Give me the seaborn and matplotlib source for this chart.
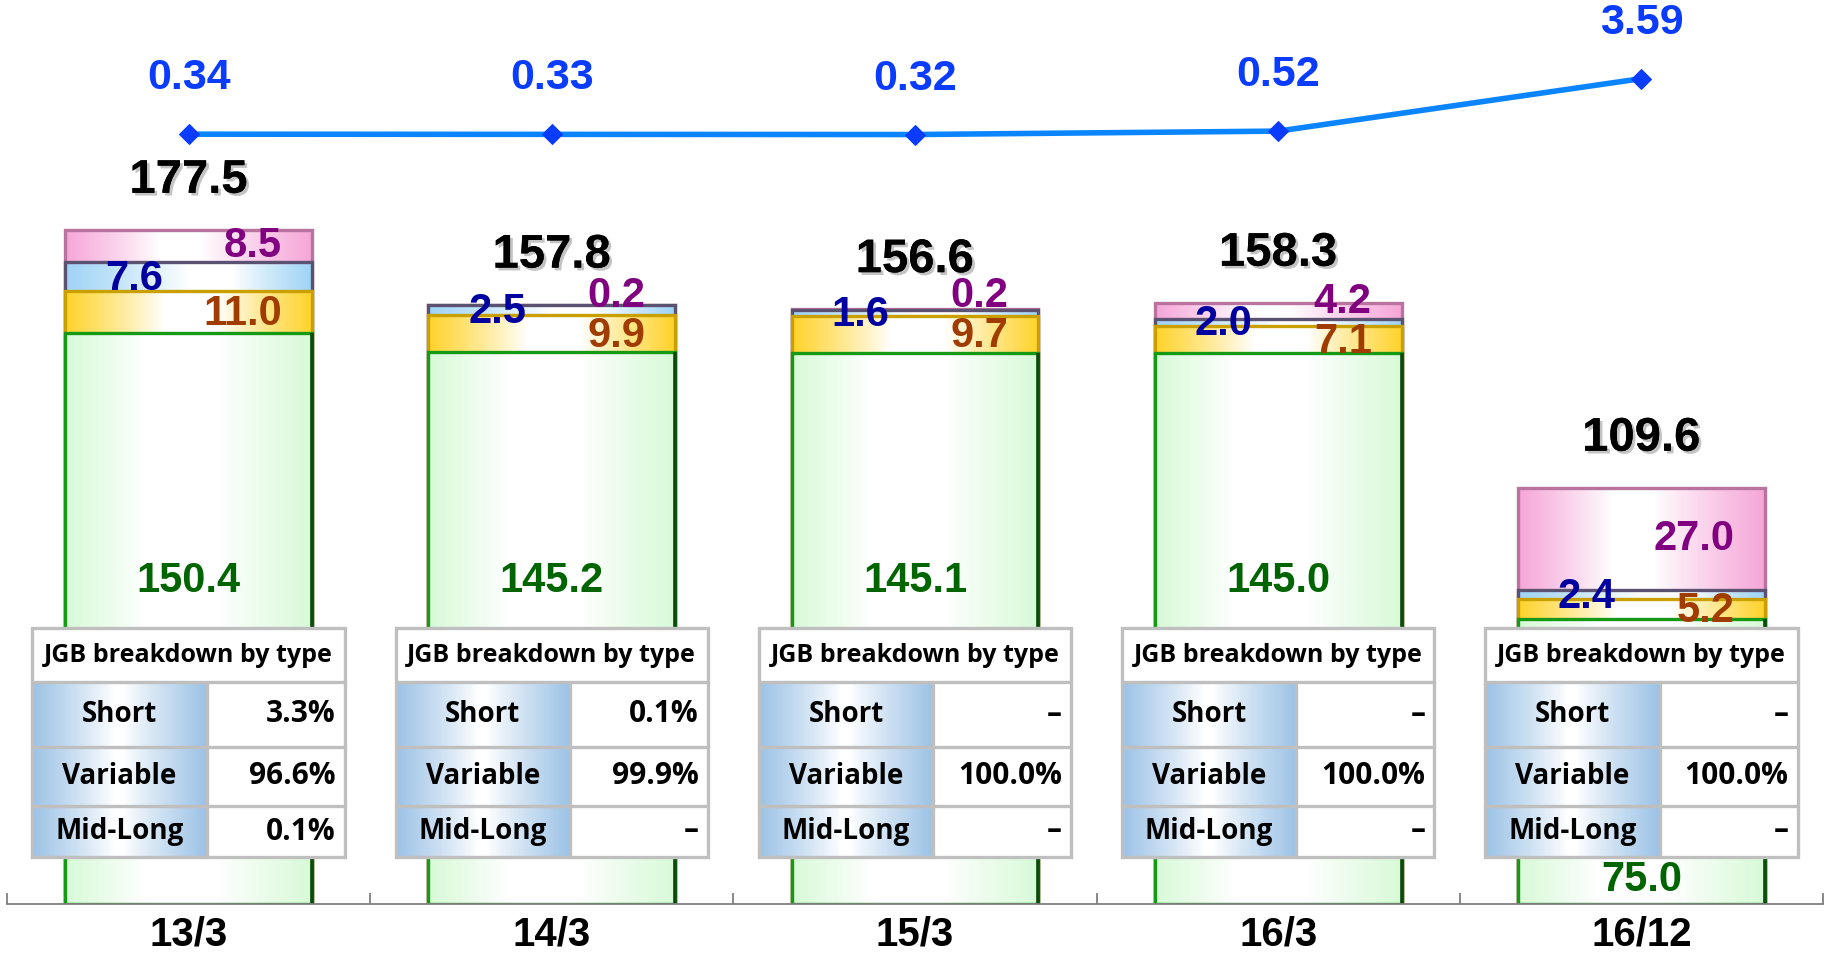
import numpy as np
import matplotlib
matplotlib.use("Agg")
import matplotlib.pyplot as plt
import seaborn as sns
from matplotlib.colors import to_rgb
from matplotlib.patches import Rectangle
from matplotlib import transforms
import matplotlib.patheffects as pe

# ---- data -------------------------------------------------------------
periods = ["13/3", "14/3", "15/3", "16/3", "16/12"]
jgb_bn = [150.4, 145.2, 145.1, 145.0, 75.0]          # green segment
seg_yellow = [11.0, 9.9, 9.7, 7.1, 5.2]
seg_blue = [7.6, 2.5, 1.6, 2.0, 2.4]
seg_pink = [8.5, 0.2, 0.2, 4.2, 27.0]
line_values = [0.34, 0.33, 0.32, 0.52, 3.59]

short_pct = [3.3, 0.1, None, None, None]
variable_pct = [96.6, 99.9, 100.0, 100.0, 100.0]
midlong_pct = [0.1, None, None, None, None]
table_title = "JGB breakdown by type"
row_names = ["Short", "Variable", "Mid-Long"]

# ---- style ------------------------------------------------------------
sns.set_theme(style="white")
plt.rcParams["font.family"] = ["Liberation Sans", "DejaVu Sans"]
TABLE_FONT = ["Open Sans", "Noto Sans", "DejaVu Sans"]

W, H, DPI = 1825, 960, 100
fig = plt.figure(figsize=(W / DPI, H / DPI), dpi=DPI)
fig.patch.set_facecolor("white")

AX_LEFT, AX_W, AX_BOTTOM = 7 / W, 1816 / W, 56 / H
ax = fig.add_axes([AX_LEFT, AX_BOTTOM, AX_W, 1 - AX_BOTTOM])
ax.set_facecolor("none")

BAR_W = 0.68
YTOP = 238.0

n = len(periods)
c1 = np.array(jgb_bn)
c2 = c1 + np.array(seg_yellow)
c3 = c2 + np.array(seg_blue)
c4 = c3 + np.array(seg_pink)
totals = c4

# (cumulative heights, gradient colour, white band, border colour)
layers = [
    (c4, "#F6A6D8", (0.38, 0.55), "#B9739F"),
    (c3, "#9ED3F6", (0.50, 0.68), "#5A5270"),
    (c2, "#FFD32A", (0.40, 0.62), "#C9A000"),
    (c1, "#D8FAD8", (0.32, 0.62), "#169A16"),
]

layer_patches = []
for vals, base, _, _ in layers:
    before = len(ax.patches)
    sns.barplot(x=periods, y=vals, order=periods, color=base, width=BAR_W,
                saturation=1, errorbar=None, ax=ax)
    layer_patches.append(ax.patches[before:])

ax.set_xlim(-0.5, n - 0.5)
ax.set_ylim(0, YTOP)
ax.set_autoscale_on(False)


def gradient_strip(color, lo, hi, size=256):
    xs = np.linspace(0, 1, size)
    t = np.where(xs < lo, 1 - xs / lo,
                 np.where(xs > hi, (xs - hi) / (1 - hi), 0.0))
    t = np.clip(t, 0, 1) ** 0.9
    c = np.array(to_rgb(color))
    img = 1 + (c - 1) * t[:, None]
    return img[None, :, :]


for li, ((vals, base, band, edge), patches) in enumerate(zip(layers, layer_patches)):
    z = 2 + li * 0.5
    img = gradient_strip(base, *band)
    for p in patches:
        x0, y0 = p.get_x(), p.get_y()
        x1, y1 = x0 + p.get_width(), y0 + p.get_height()
        im = ax.imshow(img, extent=[x0, x1, y0, y1], aspect="auto",
                       origin="lower", interpolation="bilinear", zorder=z)
        im.set_clip_path(p)
        p.set_facecolor("none")
        p.set_edgecolor(edge)
        p.set_linewidth(2.4)
        p.set_zorder(z + 0.1)

# darker right-hand rim on the green segments
for p in layer_patches[-1]:
    xr = p.get_x() + p.get_width()
    ax.plot([xr, xr], [p.get_y(), p.get_y() + p.get_height()], color="#0B4A0B",
            lw=2.6, zorder=4, solid_capstyle="butt")

# ---- value labels on the bars ------------------------------------------
shadow = [pe.withSimplePatchShadow(offset=(2, -2), shadow_rgbFace="#888888", alpha=0.5),
          pe.Normal()]
GREEN_LABEL_Y = 85.0
SEG_FS = 30
for i in range(n):
    left, right = i - BAR_W / 2, i + BAR_W / 2
    ax.annotate(f"{totals[i]:.1f}", (i, totals[i]), xytext=(0, 27),
                textcoords="offset pixels", ha="center", va="bottom",
                fontsize=34, fontweight="bold", color="black",
                path_effects=shadow, zorder=20)

    y_yellow = (c1[i] + c2[i]) / 2
    y_blue = (c2[i] + c3[i]) / 2
    y_pink = max((c3[i] + c4[i]) / 2, y_yellow + 10.0)
    ax.annotate(f"{seg_yellow[i]:.1f}", (right, y_yellow), xytext=(-30, -2),
                textcoords="offset pixels", ha="right", va="center",
                fontsize=SEG_FS, fontweight="bold", color="#A03C00", zorder=20)
    ax.annotate(f"{seg_blue[i]:.1f}", (left, y_blue), xytext=(40, -2),
                textcoords="offset pixels", ha="left", va="center",
                fontsize=SEG_FS, fontweight="bold", color="#0000A0", zorder=20)
    ax.annotate(f"{seg_pink[i]:.1f}", (right, y_pink), xytext=(-30, 0),
                textcoords="offset pixels", ha="right", va="center",
                fontsize=SEG_FS, fontweight="bold", color="#800080", zorder=20)
    if c1[i] >= GREEN_LABEL_Y + 12:
        ax.annotate(f"{jgb_bn[i]:.1f}", (i, GREEN_LABEL_Y), ha="center", va="center",
                    fontsize=SEG_FS, fontweight="bold", color="#006400", zorder=20)
    else:
        ax.annotate(f"{jgb_bn[i]:.1f}", (i, 0), xytext=(0, 24),
                    textcoords="offset pixels", ha="center", va="center",
                    fontsize=SEG_FS, fontweight="bold", color="#006400", zorder=20)

# ---- axis cosmetics ----------------------------------------------------
for s in ["left", "right", "top"]:
    ax.spines[s].set_visible(False)
ax.spines["bottom"].set_color("#7F7F7F")
ax.spines["bottom"].set_linewidth(1.3)
ax.spines["bottom"].set_zorder(30)
ax.set_yticks([])
ax.set_xticks(range(n))
ax.set_xticklabels(periods, fontsize=29, fontweight="bold", color="black")
ax.set_xticks(np.arange(-0.5, n), minor=True)
ax.tick_params(axis="x", which="major", length=0, pad=8)
ax.tick_params(axis="x", which="minor", direction="in", length=8, width=1.3,
               color="#7F7F7F", bottom=True)
ax.set_xlabel("")
ax.set_ylabel("")

# ---- breakdown tables -------------------------------------------------
blend = transforms.blended_transform_factory(ax.transData, fig.transFigure)
TAB_HALF = 0.43
LABEL_FRAC = 0.558
row_px = [628, 682, 747, 806, 857]
row_y = [1 - v / H for v in row_px]
cell_blue = "#9CC2E6"
grid_col = "#BFBFBF"


def fmt(v):
    return "\u2013" if v is None else f"{v:.1f}%"


label_img = gradient_strip(cell_blue, 0.47, 0.52)
for i in range(n):
    x0, x1 = i - TAB_HALF, i + TAB_HALF
    xm = x0 + (x1 - x0) * LABEL_FRAC
    top, bot = row_y[0], row_y[-1]
    ax.add_patch(Rectangle((x0, bot), x1 - x0, top - bot, transform=blend,
                           facecolor="white", edgecolor="none", zorder=8, clip_on=False))
    ax.text((x0 + x1) / 2, (row_y[0] + row_y[1]) / 2, table_title, transform=blend,
            ha="center", va="center", fontsize=18, fontweight="bold",
            family=TABLE_FONT, color="black", zorder=11)
    vals = [short_pct[i], variable_pct[i], midlong_pct[i]]
    for r in range(3):
        ya, yb = row_y[r + 1], row_y[r + 2]
        ax.imshow(label_img, extent=[x0, xm, yb, ya], transform=blend,
                  aspect="auto", origin="lower", interpolation="bilinear",
                  zorder=9, clip_on=False)
        ax.text((x0 + xm) / 2, (ya + yb) / 2, row_names[r], transform=blend,
                ha="center", va="center", fontsize=20, fontweight="bold",
                family=TABLE_FONT, color="black", zorder=11)
        ax.annotate(fmt(vals[r]), (x1, (ya + yb) / 2), xycoords=blend,
                    xytext=(-9, 0), textcoords="offset pixels",
                    ha="right", va="center", fontsize=21.5, fontweight="bold",
                    family=TABLE_FONT, color="black", zorder=11)
    # grid lines
    ax.add_patch(Rectangle((x0, bot), x1 - x0, top - bot, transform=blend,
                           facecolor="none", edgecolor=grid_col, linewidth=2.4,
                           zorder=10, clip_on=False))
    for yy in row_y[1:-1]:
        ax.plot([x0, x1], [yy, yy], transform=blend, color=grid_col, lw=2.4,
                zorder=10, clip_on=False)
    ax.plot([xm, xm], [row_y[1], row_y[-1]], transform=blend, color=grid_col,
            lw=2.4, zorder=10, clip_on=False)

# ---- line on top band --------------------------------------------------
LINE_TOP_PX = 160
ax_line = fig.add_axes([AX_LEFT, 1 - LINE_TOP_PX / H, AX_W, LINE_TOP_PX / H])
ax_line.set_facecolor("none")
xpos = np.arange(n)
sns.lineplot(x=xpos, y=line_values, ax=ax_line, color="#0A84FF", lw=4,
             marker="D", markersize=10, markerfacecolor="#0A3CFF",
             markeredgecolor="#0A3CFF")
ax_line.set_xlim(-0.5, n - 0.5)
ax_line.set_ylim(-1.17, 8.19)
ax_line.axis("off")
for i, v in enumerate(line_values):
    ax_line.annotate(f"{v:.2f}", (i, v), xytext=(0, 56), textcoords="offset pixels",
                     ha="center", va="center", fontsize=31, fontweight="bold",
                     color="#0A3CFF")

fig.savefig("out.png", dpi=DPI, facecolor="white")
